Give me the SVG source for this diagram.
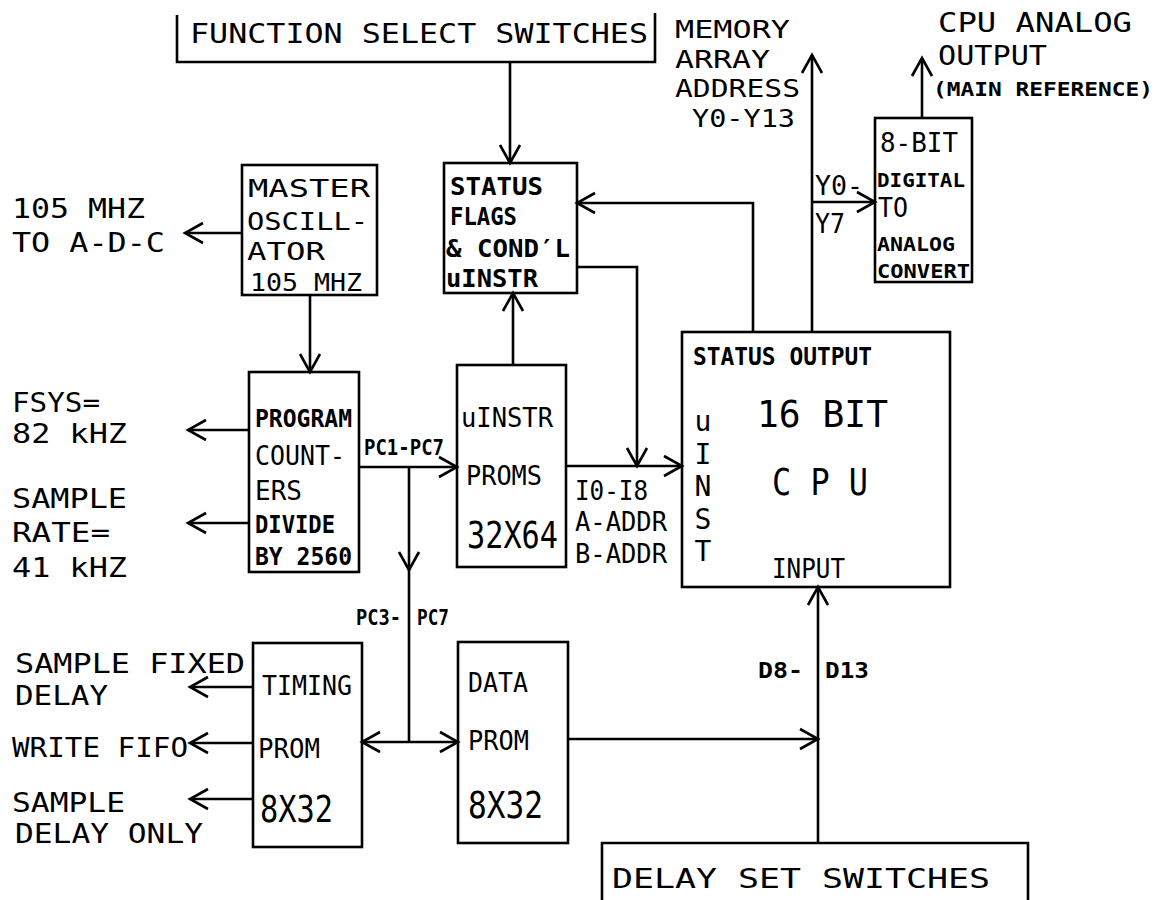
<svg xmlns="http://www.w3.org/2000/svg" width="1167" height="900" viewBox="0 0 1167 900">
<style>
.bg{fill:#fff}
.box{fill:none;stroke:#000;stroke-width:2.6}
.ln{fill:none;stroke:#000;stroke-width:2.6}
.ar{marker-end:url(#arr)}
text{font-family:"DejaVu Sans Mono","Liberation Mono",monospace;fill:#000}
.L{font-size:26px}
.M{font-size:24px}
.B{font-size:24px;font-weight:bold}
.X{font-size:38px}
.S{font-size:20px;font-weight:bold}
.P{font-size:22px;font-weight:bold}
.V{font-size:28px;writing-mode:vertical-rl;text-orientation:upright;letter-spacing:-0.5px}
</style>
<defs>
<marker id="arr" markerUnits="userSpaceOnUse" markerWidth="24" markerHeight="24" refX="18" refY="10" orient="auto" overflow="visible">
<path d="M0,0 L18,10 L0,20" fill="none" stroke="#000" stroke-width="2.6"/>
</marker>
</defs>
<rect class="bg" x="0" y="0" width="1167" height="900"/>

<g id="connectors">
<path class="ln ar" d="M510,62 V163"/>
<path class="ln ar" d="M753,332 V203 H577"/>
<path class="ln ar" d="M577,267 H637 V466"/>
<path class="ln ar" d="M513,365 V293"/>
<path class="ln ar" d="M242,233 H185"/>
<path class="ln ar" d="M310,295 V372"/>
<path class="ln ar" d="M249,430 H188"/>
<path class="ln ar" d="M249,523 H188"/>
<path class="ln ar" d="M359,467 H457"/>
<path class="ln ar" d="M409,467 V570"/>
<path class="ln" d="M409,568 V742"/>
<path class="ln ar" d="M409,742 H362"/>
<path class="ln ar" d="M409,742 H458"/>
<path class="ln ar" d="M566,466 H682"/>
<path class="ln ar" d="M812,332 V55"/>
<path class="ln ar" d="M812,202 H875"/>
<path class="ln ar" d="M922,118 V58"/>
<path class="ln ar" d="M568,739 H818"/>
<path class="ln ar" d="M818,843 V587"/>
<path class="ln ar" d="M253,687 H190"/>
<path class="ln ar" d="M253,743 H190"/>
<path class="ln ar" d="M253,799 H190"/>
</g>

<g id="function-select">
<path class="box" d="M177,15 V62 H655 V13"/>
<text class="L" x="190" y="43" font-size="29" textLength="458" lengthAdjust="spacingAndGlyphs">FUNCTION SELECT SWITCHES</text>
</g>

<g id="status-flags">
<rect class="box" x="444" y="163" width="133" height="130"/>
<text class="B" x="450" y="195" textLength="93" lengthAdjust="spacingAndGlyphs">STATUS</text>
<text class="B" x="450" y="225" textLength="67" lengthAdjust="spacingAndGlyphs">FLAGS</text>
<text class="B" x="446" y="257" textLength="124" lengthAdjust="spacingAndGlyphs">&amp; COND′L</text>
<text class="B" x="446" y="287" textLength="92" lengthAdjust="spacingAndGlyphs">uINSTR</text>
</g>

<g id="master-osc">
<rect class="box" x="242" y="165" width="135" height="130"/>
<text class="M" x="248" y="197" font-size="25" textLength="122" lengthAdjust="spacingAndGlyphs">MASTER</text>
<text class="M" x="247" y="230" font-size="25" textLength="121" lengthAdjust="spacingAndGlyphs">OSCILL-</text>
<text class="M" x="247" y="260" font-size="25" textLength="78" lengthAdjust="spacingAndGlyphs">ATOR</text>
<text class="M" x="250" y="291" font-size="25" textLength="112" lengthAdjust="spacingAndGlyphs">105 MHZ</text>
</g>

<g id="adc-label">
<text class="L" x="12" y="218" textLength="133" lengthAdjust="spacingAndGlyphs">105 MHZ</text>
<text class="L" x="12" y="252" textLength="153" lengthAdjust="spacingAndGlyphs">TO A-D-C</text>
</g>

<g id="program-counters">
<rect class="box" x="249" y="372" width="110" height="200"/>
<text class="B" x="255" y="427" font-size="26" textLength="97" lengthAdjust="spacingAndGlyphs">PROGRAM</text>
<text class="L" x="255" y="465" textLength="90" lengthAdjust="spacingAndGlyphs">COUNT-</text>
<text class="L" x="255" y="500" textLength="47" lengthAdjust="spacingAndGlyphs">ERS</text>
<text class="B" x="255" y="533" font-size="26" textLength="80" lengthAdjust="spacingAndGlyphs">DIVIDE</text>
<text class="B" x="255" y="565" font-size="26" textLength="97" lengthAdjust="spacingAndGlyphs">BY 2560</text>
</g>

<g id="fsys-label">
<text class="L" x="12" y="412" textLength="88" lengthAdjust="spacingAndGlyphs">FSYS=</text>
<text class="L" x="12" y="443" textLength="115" lengthAdjust="spacingAndGlyphs">82 kHZ</text>
</g>
<g id="sample-rate-label">
<text class="L" x="12" y="508" textLength="115" lengthAdjust="spacingAndGlyphs">SAMPLE</text>
<text class="L" x="12" y="542" textLength="98" lengthAdjust="spacingAndGlyphs">RATE=</text>
<text class="L" x="12" y="577" textLength="115" lengthAdjust="spacingAndGlyphs">41 kHZ</text>
</g>

<g id="uinstr-proms">
<rect class="box" x="457" y="365" width="109" height="202"/>
<text class="L" x="461" y="427" font-size="28" textLength="92" lengthAdjust="spacingAndGlyphs">uINSTR</text>
<text class="L" x="466" y="485" font-size="28" textLength="76" lengthAdjust="spacingAndGlyphs">PROMS</text>
<text class="X" x="467" y="548" textLength="91" lengthAdjust="spacingAndGlyphs">32X64</text>
</g>

<g id="bus-labels">
<text class="P" x="364" y="455" textLength="80" lengthAdjust="spacingAndGlyphs">PC1-PC7</text>
<text class="P" x="356" y="625" textLength="45" lengthAdjust="spacingAndGlyphs">PC3-</text>
<text class="P" x="417" y="625" textLength="32" lengthAdjust="spacingAndGlyphs">PC7</text>
<text class="L" x="575" y="500" textLength="73" lengthAdjust="spacingAndGlyphs">I0-I8</text>
<text class="L" x="575" y="531" textLength="92" lengthAdjust="spacingAndGlyphs">A-ADDR</text>
<text class="L" x="575" y="563" textLength="92" lengthAdjust="spacingAndGlyphs">B-ADDR</text>
<text class="P" x="758" y="678" font-size="26" textLength="45" lengthAdjust="spacingAndGlyphs">D8-</text>
<text class="P" x="825" y="678" font-size="26" textLength="44" lengthAdjust="spacingAndGlyphs">D13</text>
<text class="L" x="815" y="195" textLength="48" lengthAdjust="spacingAndGlyphs">Y0-</text>
<text class="L" x="815" y="233" textLength="30" lengthAdjust="spacingAndGlyphs">Y7</text>
</g>

<g id="memory-label">
<text class="M" x="675" y="38" textLength="115" lengthAdjust="spacingAndGlyphs">MEMORY</text>
<text class="M" x="675" y="68" textLength="95" lengthAdjust="spacingAndGlyphs">ARRAY</text>
<text class="M" x="675" y="97" textLength="125" lengthAdjust="spacingAndGlyphs">ADDRESS</text>
<text class="M" x="692" y="127" textLength="103" lengthAdjust="spacingAndGlyphs">Y0-Y13</text>
</g>

<g id="analog-label">
<text class="L" x="938" y="32" textLength="194" lengthAdjust="spacingAndGlyphs">CPU ANALOG</text>
<text class="L" x="938" y="65" textLength="109" lengthAdjust="spacingAndGlyphs">OUTPUT</text>
<text class="S" x="933" y="96" textLength="220" lengthAdjust="spacingAndGlyphs">(MAIN REFERENCE)</text>
</g>

<g id="dac">
<rect class="box" x="875" y="118" width="97" height="164"/>
<text class="L" x="880" y="152" textLength="78" lengthAdjust="spacingAndGlyphs">8-BIT</text>
<text class="S" x="877" y="187" textLength="88" lengthAdjust="spacingAndGlyphs">DIGITAL</text>
<text class="L" x="878" y="217" textLength="30" lengthAdjust="spacingAndGlyphs">TO</text>
<text class="S" x="877" y="251" textLength="78" lengthAdjust="spacingAndGlyphs">ANALOG</text>
<text class="S" x="877" y="278" textLength="93" lengthAdjust="spacingAndGlyphs">CONVERT</text>
</g>

<g id="cpu">
<rect class="box" x="682" y="332" width="268" height="255"/>
<text class="B" x="693" y="365" textLength="179" lengthAdjust="spacingAndGlyphs">STATUS OUTPUT</text>
<text class="X" x="757" y="427" textLength="131" lengthAdjust="spacingAndGlyphs">16  BIT</text>
<text class="X" x="772" y="495" textLength="96" lengthAdjust="spacingAndGlyphs">C P U</text>
<text class="V" x="703" y="405">uINST</text>
<text class="L" x="772" y="578" textLength="73" lengthAdjust="spacingAndGlyphs">INPUT</text>
</g>

<g id="timing-prom">
<rect class="box" x="253" y="643" width="109" height="204"/>
<text class="L" x="262" y="695" font-size="28" textLength="90" lengthAdjust="spacingAndGlyphs">TIMING</text>
<text class="L" x="258" y="758" font-size="28" textLength="62" lengthAdjust="spacingAndGlyphs">PROM</text>
<text class="X" x="260" y="822" textLength="73" lengthAdjust="spacingAndGlyphs">8X32</text>
</g>

<g id="timing-labels">
<text class="L" x="15" y="673" textLength="230" lengthAdjust="spacingAndGlyphs">SAMPLE FIXED</text>
<text class="L" x="15" y="705" textLength="93" lengthAdjust="spacingAndGlyphs">DELAY</text>
<text class="L" x="12" y="757" textLength="176" lengthAdjust="spacingAndGlyphs">WRITE FIFO</text>
<text class="L" x="12" y="812" textLength="113" lengthAdjust="spacingAndGlyphs">SAMPLE</text>
<text class="L" x="15" y="843" textLength="188" lengthAdjust="spacingAndGlyphs">DELAY ONLY</text>
</g>

<g id="data-prom">
<rect class="box" x="458" y="642" width="110" height="201"/>
<text class="L" x="468" y="692" font-size="28" textLength="60" lengthAdjust="spacingAndGlyphs">DATA</text>
<text class="L" x="468" y="750" font-size="28" textLength="61" lengthAdjust="spacingAndGlyphs">PROM</text>
<text class="X" x="468" y="818" textLength="75" lengthAdjust="spacingAndGlyphs">8X32</text>
</g>

<g id="delay-switches">
<path class="box" d="M602,902 V843 H1028 V902"/>
<text class="L" x="612" y="888" font-size="29" textLength="378" lengthAdjust="spacingAndGlyphs">DELAY SET SWITCHES</text>
</g>
</svg>
